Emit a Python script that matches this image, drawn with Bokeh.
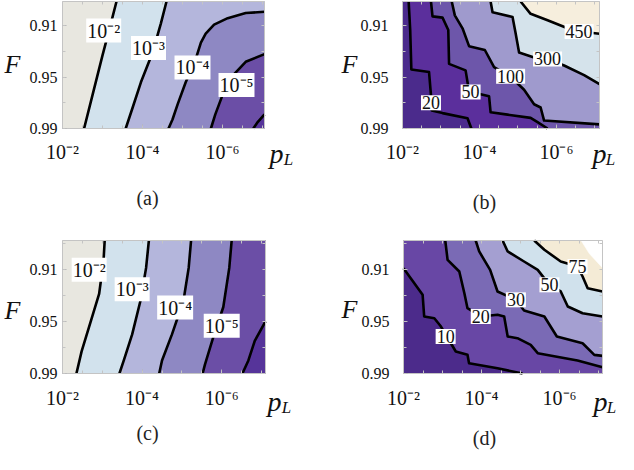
from bokeh.plotting import figure
from bokeh.models import Range1d, FixedTicker, LinearAxis, Label
from bokeh.layouts import column, row
from bokeh.embed import file_html
from bokeh.resources import INLINE

SERIF = "Liberation Serif"
F_BOTTOM = 0.99

# ---------------- panel (a) ----------------
a_x_end, a_f_top = -7.05, 0.891
a1_x = [-3.35, -3.21, -3.0, -2.75, -2.54]
a1_y = [0.891, 0.908, 0.933, 0.964, 0.99]
a2_x = [-4.6, -4.46, -4.25, -3.96, -3.75, -3.58]
a2_y = [0.891, 0.908, 0.931, 0.954, 0.974, 0.99]
a3_x = [-7.05, -6.58, -6.13, -5.79, -5.58, -5.46, -5.33, -5.08, -4.88, -4.75, -4.65]
a3_y = [0.899, 0.900, 0.904, 0.909, 0.916, 0.923, 0.936, 0.954, 0.971, 0.983, 0.99]
a4_x = [-7.05, -6.58, -6.25, -6.0, -5.82, -5.71]
a4_y = [0.932, 0.938, 0.949, 0.964, 0.979, 0.99]
a5_x = [-7.05, -6.88, -6.77]
a5_y = [0.979, 0.985, 0.99]
a_label_text = ["10⁻²", "10⁻³", "10⁻⁴", "10⁻⁵"]
a_label_x = [-3.03, -4.15, -5.25, -6.35]
a_label_y = [0.9137, 0.9273, 0.9424, 0.956]

# ---------------- panel (b) ----------------
b_x_end, b_f_top = -7.12, 0.891
b1_x = [-2.16, -2.20, -2.23, -2.69, -2.74, -2.76, -3.04, -3.69, -3.79]
b1_y = [0.891, 0.913, 0.944, 0.946, 0.964, 0.976, 0.978, 0.982, 0.99]
b2_x = [-2.74, -2.78, -3.04, -3.19, -3.21, -3.64, -3.73, -4.25, -4.29, -4.73, -5.33, -5.51, -5.77]
b2_y = [0.891, 0.9026, 0.9036, 0.9132, 0.9396, 0.9447, 0.9611, 0.9649, 0.9774, 0.9792, 0.9817, 0.985, 0.99]
b3_x = [-3.28, -3.36, -3.56, -3.73, -4.14, -4.38, -4.81, -5.16, -5.42, -5.59, -5.68, -7.12]
b3_y = [0.891, 0.9018, 0.9119, 0.9258, 0.9288, 0.9422, 0.9497, 0.9598, 0.9711, 0.9736, 0.9838, 0.9868]
b4_x = [-4.29, -4.34, -4.86, -4.94, -5.03, -5.42, -5.77, -6.20, -6.72, -7.12]
b4_y = [0.891, 0.8993, 0.9031, 0.9157, 0.9308, 0.9346, 0.9358, 0.9409, 0.9484, 0.9555]
b5_x = [-5.07, -5.33, -5.77, -6.29, -6.59, -7.12]
b5_y = [0.891, 0.9006, 0.9056, 0.9119, 0.9144, 0.9162]
b_label_text = ["20", "50", "100", "300", "450"]
b_label_x = [-2.74, -3.77, -4.81, -5.77, -6.59]
b_label_y = [0.9699, 0.9615, 0.9492, 0.9358, 0.9144]

# ---------------- panel (c) ----------------
c_x_end, c_f_top = -7.1, 0.888
c1_x = [-3.06, -3.03, -2.92, -2.71, -2.48, -2.35]
c1_y = [0.888, 0.904, 0.929, 0.950, 0.973, 0.99]
c2_x = [-4.17, -4.10, -3.96, -3.75, -3.54, -3.43]
c2_y = [0.888, 0.909, 0.934, 0.960, 0.980, 0.99]
c3_x = [-5.23, -5.17, -5.04, -4.75, -4.50, -4.43]
c3_y = [0.888, 0.909, 0.934, 0.960, 0.980, 0.99]
c4_x = [-6.25, -6.19, -6.04, -5.79, -5.58, -5.52]
c4_y = [0.888, 0.909, 0.939, 0.962, 0.983, 0.99]
c5_x = [-7.1, -6.83, -6.67, -6.52]
c5_y = [0.950, 0.965, 0.980, 0.99]
c_label_text = ["10⁻²", "10⁻³", "10⁻⁴", "10⁻⁵"]
c_label_x = [-2.67, -3.75, -4.83, -6.0]
c_label_y = [0.9105, 0.9253, 0.9394, 0.9534]

# ---------------- panel (d) ----------------
d_x_end, d_f_top = -7.1, 0.888
d1_x = [-2.0, -2.49, -2.53, -2.79, -2.96, -3.34, -3.64, -3.68, -4.41, -5.05]
d1_y = [0.9092, 0.9296, 0.9463, 0.9476, 0.954, 0.9731, 0.9757, 0.9821, 0.986, 0.99]
d2_x = [-3.07, -3.13, -3.43, -3.56, -3.64, -3.98, -4.41, -4.58, -4.67, -4.92, -5.26, -5.44, -6.46, -7.1]
d2_y = [0.888, 0.9028, 0.9118, 0.9284, 0.9399, 0.9463, 0.945, 0.9463, 0.9616, 0.9629, 0.968, 0.9744, 0.98, 0.9852]
d3_x = [-3.85, -3.94, -4.22, -4.41, -4.88, -5.09, -5.61, -5.93, -6.59, -6.89, -7.1]
d3_y = [0.888, 0.8964, 0.9105, 0.9271, 0.9335, 0.9417, 0.9463, 0.9616, 0.9668, 0.9757, 0.9765]
d4_x = [-4.54, -4.67, -5.09, -5.44, -5.74, -6.03, -6.21, -6.59, -7.1]
d4_y = [0.888, 0.8964, 0.9041, 0.9105, 0.922, 0.9271, 0.9386, 0.9438, 0.9463]
d5_x = [-5.35, -5.61, -6.03, -6.46, -6.59, -6.72, -7.1]
d5_y = [0.888, 0.8951, 0.9041, 0.9079, 0.9156, 0.9246, 0.9271]
d6_x = [-6.55, -6.76, -7.1]
d6_y = [0.888, 0.898, 0.909]
d_label_text = ["10", "20", "30", "50", "75"]
d_label_x = [-3.08, -3.98, -4.88, -5.74, -6.46]
d_label_y = [0.9616, 0.9463, 0.9335, 0.922, 0.908]

x_major = [-2, -4, -6]
x_major_text = {-2: "10⁻²", -4: "10⁻⁴", -6: "10⁻⁶"}
x_minor = [-2, -2.5, -3, -3.5, -4, -4.5, -5, -5.5, -6, -6.5, -7]
y_major = [0.91, 0.95, 0.99]
y_minor = [0.89, 0.91, 0.93, 0.95, 0.97, 0.99]

ac_colors = ["#e8e7e0", "#d2e2ed", "#b4b6dc", "#8e88c3", "#6b4ea6", "#56349a"]
b_colors = ["#4b2b8c", "#5b2f9c", "#6d56aa", "#9f9acd", "#d5e3eb", "#f6eedd"]
d_colors = ["#4c2b8b", "#6847a5", "#7a6ab5", "#a49fd1", "#d0e1ec", "#f4ebd6", "#ffffff"]

W, H = 309, 227
GRAY = "#c4c4c4"


def make_panel(x_end, f_top, lines, corners, colors, drawn, labels, lab_size,
               box, f_px, p_px, l_px, cap_px, cap_text, ystand, xstand):
    left, right, top, bottom = box          # plot box in canvas pixels
    kx = (x_end + 2) / (right - left)
    ky = (F_BOTTOM - f_top) / (bottom - top)

    def sx(px):
        return -2 + (px - left) * kx

    def sy(py):
        return f_top + (py - top) * ky

    p = figure(width=W, height=H, x_range=Range1d(sx(0), sx(W)),
               y_range=Range1d(sy(H), sy(0)), output_backend="svg",
               toolbar_location=None, min_border=0,
               x_axis_location=None, y_axis_location=None)
    p.grid.visible = False
    p.outline_line_color = None
    p.background_fill_color = "white"
    p.border_fill_color = "white"

    p.patch([-2, x_end, x_end, -2], [f_top, f_top, F_BOTTOM, F_BOTTOM],
            fill_color=colors[0], line_color=None)
    corner_pt = {"tl": (-2, f_top), "tr": (x_end, f_top),
                 "br": (x_end, F_BOTTOM), "bl": (-2, F_BOTTOM)}
    for (lx, ly), cs, col in zip(lines, corners, colors[1:]):
        px = list(lx) + [corner_pt[c][0] for c in cs]
        py = list(ly) + [corner_pt[c][1] for c in cs]
        p.patch(px, py, fill_color=col, line_color=col, line_width=0.5)
    for (lx, ly), d in zip(lines, drawn):
        if d:
            p.line(lx, ly, line_color="black", line_width=2.6, line_join="round")
    for t, x, y in zip(*labels):
        p.add_layout(Label(x=x, y=y, text=t, text_font=SERIF, text_font_size=lab_size,
                           text_align="center", text_baseline="middle",
                           background_fill_color="white", padding=1, text_color="#111111"))

    common = dict(axis_line_color=GRAY, major_tick_in=4, major_tick_out=0,
                  minor_tick_in=3, minor_tick_out=0, major_tick_line_color="#b4b4b4",
                  minor_tick_line_color="#c4c4c4", major_label_text_font=SERIF,
                  major_label_text_color="#111111")
    xb = LinearAxis(fixed_location=F_BOTTOM, bounds=(x_end, -2),
                    ticker=FixedTicker(ticks=x_major, minor_ticks=x_minor),
                    major_label_overrides=x_major_text, major_label_text_font_size="20px",
                    major_label_standoff=xstand, **common)
    p.add_layout(xb, "below")
    yl = LinearAxis(fixed_location=-2, bounds=(f_top, F_BOTTOM),
                    ticker=FixedTicker(ticks=y_major, minor_ticks=y_minor),
                    major_label_text_font_size="16px", major_label_standoff=ystand, **common)
    p.add_layout(yl, "left")
    xt = LinearAxis(fixed_location=f_top, bounds=(x_end, -2),
                    ticker=FixedTicker(ticks=[], minor_ticks=x_minor), **common)
    p.add_layout(xt, "above")
    yr = LinearAxis(fixed_location=x_end, bounds=(f_top, F_BOTTOM),
                    ticker=FixedTicker(ticks=[], minor_ticks=y_minor), **common)
    p.add_layout(yr, "right")

    def txt(pos, text, size, style="normal", color="#111111"):
        p.add_layout(Label(x=sx(pos[0]), y=sy(pos[1]), text=text, text_font=SERIF,
                           text_font_style=style, text_font_size=size,
                           text_align="center", text_baseline="middle", text_color=color))

    txt(f_px, "F", "26px", "italic")
    txt(p_px, "p", "28px", "italic")
    txt(l_px, "L", "17px", "italic")
    txt(cap_px, cap_text, "20px", "normal", "#222222")
    return p


pa = make_panel(a_x_end, a_f_top,
                [(a1_x, a1_y), (a2_x, a2_y), (a3_x, a3_y), (a4_x, a4_y), (a5_x, a5_y)],
                [["br", "tr"], ["br", "tr"], ["br"], ["br"], ["br"]],
                ac_colors, [1, 1, 1, 1, 1], (a_label_text, a_label_x, a_label_y), "20px",
                (62, 264, 1, 128), (12, 64), (276, 153), (288, 159), (147, 197), "(a)", 5, 12)

pb = make_panel(b_x_end, b_f_top,
                [(b1_x, b1_y), (b2_x, b2_y), (b3_x, b3_y), (b4_x, b4_y), (b5_x, b5_y)],
                [["br", "tr"], ["br", "tr"], ["tr"], ["tr"], ["tr"]],
                b_colors, [1, 1, 1, 1, 1], (b_label_text, b_label_x, b_label_y), "18px",
                (93, 290, 1, 128), (40, 64), (290, 153), (301, 159), (175, 201), "(b)", 14, 12)

pc = make_panel(c_x_end, c_f_top,
                [(c1_x, c1_y), (c2_x, c2_y), (c3_x, c3_y), (c4_x, c4_y), (c5_x, c5_y)],
                [["br", "tr"], ["br", "tr"], ["br", "tr"], ["br", "tr"], ["br"]],
                ac_colors, [1, 1, 1, 1, 1], (c_label_text, c_label_x, c_label_y), "20px",
                (62, 265, 13, 146), (12, 83), (274, 174), (286, 180), (147, 205), "(c)", 5, 13)

pd_ = make_panel(d_x_end, d_f_top,
                 [(d1_x, d1_y), (d2_x, d2_y), (d3_x, d3_y), (d4_x, d4_y), (d5_x, d5_y), (d6_x, d6_y)],
                 [["br", "tr", "tl"], ["tr"], ["tr"], ["tr"], ["tr"], ["tr"]],
                 d_colors, [1, 1, 1, 1, 1, 0], (d_label_text, d_label_x, d_label_y), "18px",
                 (94, 293, 13, 146), (40, 82), (291, 174), (302, 180), (175, 210), "(d)", 14, 13)

layout = column(row(pa, pb), row(pc, pd_))
open("out.html", "w").write(file_html(layout, INLINE))
